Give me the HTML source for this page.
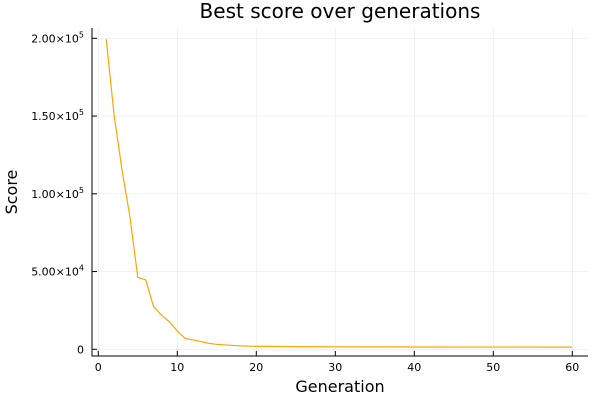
<!DOCTYPE html>
<html><head><meta charset="utf-8"><style>
body{margin:0;background:#fff}
svg{display:block;font-family:"DejaVu Sans","Liberation Sans",sans-serif}
</style></head><body>
<svg id="chart" width="600" height="400" viewBox="0 0 600 400">
<text x="340" y="18" font-size="20" text-anchor="middle">Best score over generations</text>
<text x="340" y="392" font-size="16" text-anchor="middle">Generation</text>
<text transform="translate(17,192) rotate(-90)" font-size="16" text-anchor="middle">Score</text>
<g id="grid"></g><g id="axes"></g><g id="series"></g>
</svg>
<script>
const generations=[1,2,3,4,5,6,7,8,9,10,11,12,13,14,15,16,17,18,20,25,30,40,50,60];
const scores=[199400,150600,115400,85300,46300,44600,27400,22000,17700,11800,7000,6000,5000,3800,3200,2800,2500,2200,1900,1700,1600,1500,1450,1400];
const xTicks=[0,10,20,30,40,50,60];
const yTicks=[0,50000,100000,150000,200000];
const yTickLabels=["0","5.00×10^4","1.00×10^5","1.50×10^5","2.00×10^5"];
const X=v=>98.3+v*7.9;
const Y=v=>349.3-v*0.001555;
const ns="http://www.w3.org/2000/svg";
const grid=document.getElementById('grid'),axes=document.getElementById('axes'),series=document.getElementById('series');
function mk(tag,attrs,parent){const e=document.createElementNS(ns,tag);for(const k in attrs)e.setAttribute(k,attrs[k]);parent.appendChild(e);return e;}
xTicks.forEach(t=>{
 const g=mk('line',{x1:X(t),x2:X(t),y1:28,y2:356,stroke:'#000','stroke-opacity':0.1,'stroke-width':0.5},grid);
 
 
 const tk=mk('line',{x1:X(t),x2:X(t),y1:356,y2:351,stroke:'#000'},axes);
 
 
 const l=mk('text',{x:X(t),y:371,'font-size':11,'text-anchor':'middle'},axes);
 l.textContent=t;
 
 
});
yTicks.forEach((t,i)=>{
 const g=mk('line',{x1:92,x2:588,y1:Y(t),y2:Y(t),stroke:'#000','stroke-opacity':0.1,'stroke-width':0.5},grid);
 
 
 const tk=mk('line',{x1:92,x2:97,y1:Y(t),y2:Y(t),stroke:'#000'},axes);
 
 
 const l=mk('text',{x:84,y:Y(t)+4,'font-size':11,'text-anchor':'end'},axes);
 const parts=yTickLabels[i].split('^');
 l.textContent=parts[0];
 if(parts[1]){const s=mk('tspan',{dy:-5,'font-size':8},l);s.textContent=parts[1];}
 
 
});
const ax=mk('path',{d:'M92 28 V356 H588',fill:'none',stroke:'#000','stroke-width':1},axes);


const line=mk('polyline',{points:generations.map((g,i)=>X(g)+','+Y(scores[i])).join(' '),fill:'none',stroke:'#ffa500','stroke-width':1.2},series);


</script>
</body></html>
